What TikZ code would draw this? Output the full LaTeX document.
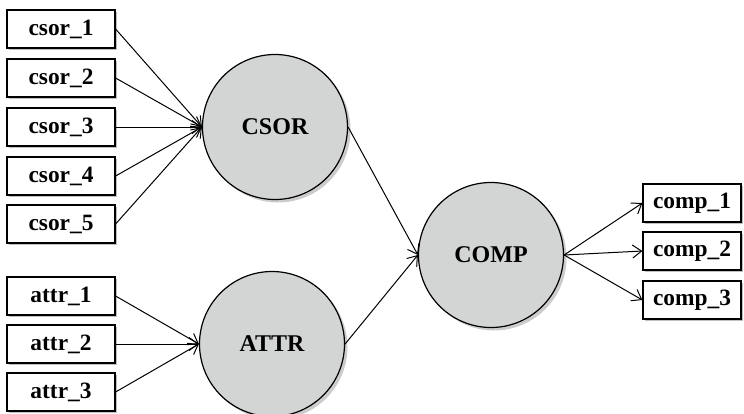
\documentclass[tikz,border=0pt]{standalone}
\usepackage{fontspec}
\setmainfont{Liberation Serif}
\usetikzlibrary{arrows.meta,shadows}

\definecolor{latfill}{RGB}{211,212,212}

\tikzset{
	obs/.style={draw, fill=white, line width=0.6pt, minimum width=54pt, minimum height=19pt,
		inner sep=0pt, font=\bfseries\fontsize{11.7}{14}\selectfont,
		drop shadow={shadow xshift=1.2pt, shadow yshift=-1.2pt, fill=black, opacity=0.25}},
	lat/.style={circle, draw, fill=latfill, line width=0.6pt, minimum size=72.5pt,
		inner sep=0pt, font=\bfseries\fontsize{12}{14}\selectfont,
		drop shadow={shadow xshift=1.5pt, shadow yshift=-1.5pt, fill=black, opacity=0.2}},
	link/.style={-{Straight Barb[length=4.5pt,width=6.5pt]}, line width=0.5pt}
}

\begin{document}
\begin{tikzpicture}[x=0.5pt,y=-0.5pt]
		\useasboundingbox (0,0) rectangle (744,413);
		% latent variables
		\node[lat] (CSOR) at (275,127) {CSOR};
		\node[lat] (ATTR) at (272,344) {ATTR};
		\node[lat] (COMP) at (491,255) {COMP};
		% indicators
		\node[obs] (csor1) at (61,29) {csor\_1};
		\node[obs] (csor2) at (61,78) {csor\_2};
		\node[obs] (csor3) at (61,127) {csor\_3};
		\node[obs] (csor4) at (61,176) {csor\_4};
		\node[obs] (csor5) at (61,224) {csor\_5};
		\node[obs] (attr1) at (61,296) {attr\_1};
		\node[obs] (attr2) at (61,344) {attr\_2};
		\node[obs] (attr3) at (61,392) {attr\_3};
		\node[obs, minimum width=49pt] (comp1) at (692,203) {comp\_1};
		\node[obs, minimum width=49pt] (comp2) at (692,251) {comp\_2};
		\node[obs, minimum width=49pt] (comp3) at (692,300) {comp\_3};
		% paths
		\draw[link] (csor1.east) -- (CSOR.west);
		\draw[link] (csor2.east) -- (CSOR.west);
		\draw[link] (csor3.east) -- (CSOR.west);
		\draw[link] (csor4.east) -- (CSOR.west);
		\draw[link] (csor5.east) -- (CSOR.west);
		\draw[link] (attr1.east) -- (ATTR.west);
		\draw[link] (attr2.east) -- (ATTR.west);
		\draw[link] (attr3.east) -- (ATTR.west);
		\draw[link] (CSOR.east) -- (COMP.west);
		\draw[link] (ATTR.east) -- (COMP.west);
		\draw[link] (COMP.east) -- (comp1.west);
		\draw[link] (COMP.east) -- (comp2.west);
		\draw[link] (COMP.east) -- (comp3.west);
	\end{tikzpicture}
\end{document}
